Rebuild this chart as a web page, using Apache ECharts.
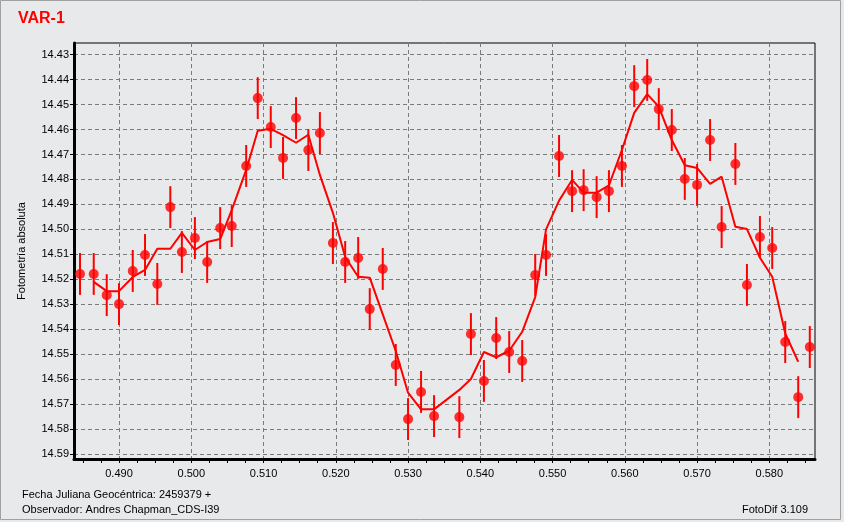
<!DOCTYPE html>
<html>
<head>
<meta charset="utf-8">
<script src="https://cdn.jsdelivr.net/npm/echarts@6/dist/echarts.min.js"></script>
<style>
html,body{margin:0;padding:0;background:#e8e9eb;}
#chart{width:844px;height:522px;}
</style>
</head>
<body>
<div id="chart"></div>
<script>
// ---- data ----
var pointX = [0.4846,0.4865,0.4883,0.4900,0.4919,0.4936,0.4953,0.4971,0.4987,0.5005,
  0.5022,0.5040,0.5056,0.5076,0.5092,0.5110,0.5127,0.5145,0.5162,0.5178,
  0.5196,0.5213,0.5231,0.5247,0.5265,0.5283,0.5300,0.5318,0.5336,0.5371,
  0.5387,0.5405,0.5422,0.5440,0.5458,0.5476,0.5491,0.5509,0.5527,0.5543,
  0.5561,0.5578,0.5596,0.5613,0.5631,0.5647,0.5665,0.5683,0.5700,0.5718,
  0.5734,0.5753,0.5769,0.5787,0.5804,0.5822,0.5840,0.5856];
var pointY = [14.5179,14.5179,14.5264,14.5300,14.5167,14.5103,14.5219,14.4911,14.5091,14.5035,
  14.5131,14.4995,14.4987,14.4746,14.4474,14.4590,14.4714,14.4554,14.4682,14.4614,
  14.5055,14.5131,14.5115,14.5320,14.5159,14.5544,14.5761,14.5652,14.5749,14.5753,
  14.5420,14.5608,14.5436,14.5492,14.5528,14.5183,14.5103,14.4706,14.4847,14.4843,
  14.4871,14.4847,14.4746,14.4426,14.4401,14.4518,14.4602,14.4798,14.4822,14.4642,
  14.4991,14.4738,14.5223,14.5031,14.5075,14.5452,14.5673,14.5472];
var pointErr = [0.0084,0.0084,0.0084,0.0084,0.0084,0.0084,0.0084,0.0084,0.0084,0.0084,
  0.0084,0.0084,0.0084,0.0084,0.0084,0.0084,0.0084,0.0084,0.0084,0.0084,
  0.0084,0.0084,0.0084,0.0084,0.0084,0.0084,0.0084,0.0084,0.0084,0.0084,
  0.0084,0.0084,0.0084,0.0084,0.0084,0.0084,0.0084,0.0084,0.0084,0.0084,
  0.0084,0.0084,0.0084,0.0084,0.0084,0.0084,0.0084,0.0084,0.0084,0.0084,
  0.0084,0.0084,0.0084,0.0084,0.0084,0.0084,0.0084,0.0084];
// line runs through the x positions of points 2..57
var lineX = pointX.slice(1, 57);
var lineY = [14.5211,14.5248,14.5248,14.5191,14.5163,14.5078,14.5078,14.5014,14.5083,14.5051,
  14.5039,14.4923,14.4762,14.4605,14.4597,14.4622,14.4653,14.4621,14.4782,14.4934,
  14.5111,14.5190,14.5194,14.5341,14.5488,14.5655,14.5722,14.5722,14.5644,14.5600,
  14.5492,14.5513,14.5487,14.5411,14.5272,14.5000,14.4885,14.4802,14.4853,14.4853,
  14.4824,14.4682,14.4533,14.4458,14.4508,14.4642,14.4743,14.4754,14.4818,14.4789,
  14.4990,14.4999,14.5114,14.5190,14.5417,14.5531];
var yTickLabels = [14.43,14.44,14.45,14.46,14.47,14.48,14.49,14.50,14.51,14.52,14.53,14.54,14.55,14.56,14.57,14.58,14.59];
var xTickLabels = [0.490,0.500,0.510,0.520,0.530,0.540,0.550,0.560,0.570,0.580];
var xMinorTicks = [0.4850,0.4875,0.4925,0.4950,0.4975,0.5025,0.5050,0.5075,0.5125,0.5150,0.5175,
  0.5225,0.5250,0.5275,0.5325,0.5350,0.5375,0.5425,0.5450,0.5475,0.5525,0.5550,0.5575,
  0.5625,0.5650,0.5675,0.5725,0.5750,0.5775,0.5825,0.5850];
var xMin = 0.48377, xMax = 0.58632;
var yMin = 14.4253, yMax = 14.5921;

var pts = pointX.map(function(x, i){ return [x, pointY[i]]; });
var errs = pointX.map(function(x, i){ return [x, pointY[i], pointErr[i]]; });
var line = lineX.map(function(x, i){ return [x, lineY[i]]; });

var FONT = '"Liberation Sans", Arial, sans-serif';
var chart = echarts.init(document.getElementById('chart'), null, {renderer:'canvas'});
chart.setOption({
  animation: false,
  backgroundColor: '#e8e9eb',
  grid: {left: 74, top: 43, right: 29, bottom: 63, show: true, borderColor: '#000', borderWidth: 1,
         backgroundColor: 'transparent', containLabel: false, outerBoundsMode: 'none'},
  xAxis: [{
    type: 'value', min: xMin, max: xMax,
    axisLine: {show: true, onZero: false, lineStyle: {color: '#000', width: 3}},
    axisTick: {show: true, length: 4, inside: false, customValues: xTickLabels, lineStyle: {color: '#000', width: 1}},
    axisLabel: {show: true, customValues: xTickLabels, margin: 9, color: '#000', fontSize: 11, fontFamily: FONT,
                formatter: function(v){ return v.toFixed(3); }},
    splitLine: {show: true, lineStyle: {color: '#7a7a7a', width: 1, type: [4, 3]}}
  }, {
    type: 'value', min: xMin, max: xMax, position: 'bottom',
    axisLine: {show: false, onZero: false},
    axisTick: {show: true, length: 4, inside: false, customValues: xMinorTicks, lineStyle: {color: '#000', width: 1}},
    axisLabel: {show: false},
    splitLine: {show: false}
  }],
  yAxis: {
    type: 'value', min: yMin, max: yMax, inverse: true,
    axisLine: {show: true, onZero: false, lineStyle: {color: '#000', width: 3}},
    axisTick: {show: true, length: 4, inside: false, customValues: yTickLabels, lineStyle: {color: '#000', width: 1}},
    axisLabel: {show: true, customValues: yTickLabels, margin: 5, color: '#000', fontSize: 11, fontFamily: FONT,
                formatter: function(v){ return v.toFixed(2); }},
    splitLine: {show: true, lineStyle: {color: '#7a7a7a', width: 1, type: [4, 3]}}
  },
  series: [{
    type: 'custom', xAxisIndex: 0, yAxisIndex: 0, z: 3,
    data: errs,
    renderItem: function(params, api){
      var x = api.value(0), y = api.value(1), e = api.value(2);
      var p1 = api.coord([x, y - e]);
      var p2 = api.coord([x, y + e]);
      return {type: 'line', shape: {x1: p1[0], y1: p1[1], x2: p2[0], y2: p2[1]},
              style: {stroke: '#ff0000', lineWidth: 2}};
    }
  }, {
    type: 'line', xAxisIndex: 0, yAxisIndex: 0, z: 4,
    data: line, showSymbol: false, symbol: 'none',
    lineStyle: {color: '#ff0000', width: 2}
  }, {
    type: 'scatter', xAxisIndex: 0, yAxisIndex: 0, z: 5,
    data: pts, symbol: 'circle', symbolSize: 10,
    itemStyle: {color: '#ff0000'}
  }],
  graphic: [
    {type: 'rect', shape: {x: 0.5, y: 0.5, width: 840, height: 519}, silent: true, z: -1,
     style: {fill: 'transparent', stroke: '#a0a0a0', lineWidth: 1}},
    {type: 'text', x: 18, y: 19, style: {text: 'VAR-1', fill: '#ff0000', font: 'bold 16px ' + FONT,
      textAlign: 'left', textVerticalAlign: 'middle'}},
    {type: 'text', x: 22, y: 251, rotation: Math.PI / 2,
     style: {text: 'Fotometría absoluta', fill: '#000', font: '11px ' + FONT, textAlign: 'center', textVerticalAlign: 'middle'}},
    {type: 'text', x: 22, y: 494.5, style: {text: 'Fecha Juliana Geocéntrica: 2459379 +', fill: '#000',
      font: '11px ' + FONT, textAlign: 'left', textVerticalAlign: 'middle'}},
    {type: 'text', x: 22, y: 510, style: {text: 'Observador: Andres Chapman_CDS-I39', fill: '#000',
      font: '11px ' + FONT, textAlign: 'left', textVerticalAlign: 'middle'}},
    {type: 'text', x: 808, y: 510, style: {text: 'FotoDif 3.109', fill: '#000',
      font: '11px ' + FONT, textAlign: 'right', textVerticalAlign: 'middle'}}
  ]
});
</script>
</body>
</html>
